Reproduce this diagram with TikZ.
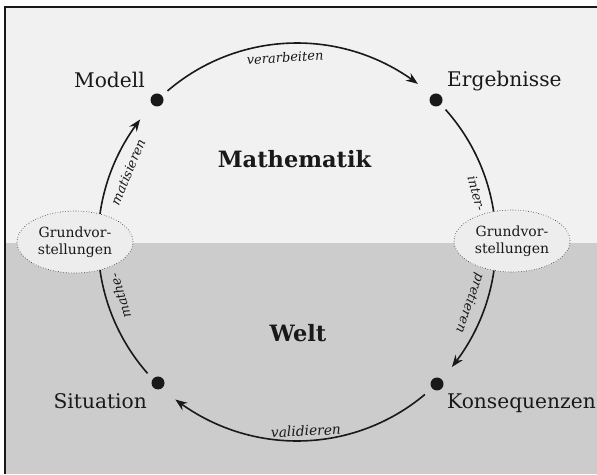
\documentclass[tikz,border=0pt]{standalone}
\usepackage{fontspec}
\setmainfont{DejaVu Serif}
\usetikzlibrary{arrows.meta,bending,shapes.geometric}
\definecolor{topbg}{gray}{0.945}
\definecolor{botbg}{gray}{0.80}
\definecolor{gvfill}{gray}{0.93}
\definecolor{ink}{gray}{0.1}
\begin{document}
\begin{tikzpicture}[x=1pt,y=1pt,
  flow/.style={draw=ink,line width=1.6pt,-{Stealth[length=12pt,width=9pt,bend]}},
  dot/.style={circle,fill=ink,inner sep=0pt,minimum size=13pt},
  lab/.style={font=\fontsize{20.2}{24}\selectfont,text=ink,inner sep=0pt},
  big/.style={font=\fontsize{22.5}{27}\selectfont\bfseries,text=ink,inner sep=0pt},
  verb/.style={font=\fontsize{13}{15}\selectfont\itshape,text=ink,inner sep=0pt},
  gv/.style={ellipse,draw=ink,dotted,line width=0.6pt,fill=gvfill,inner sep=0pt,
    minimum width=116pt,minimum height=62pt,align=center,
    font=\fontsize{14}{16.5}\selectfont,text=ink}]
\useasboundingbox (0,0) rectangle (597,474);
\fill[white] (0,0) rectangle (597,474);
\fill[topbg] (5,231) rectangle (597,467);
\fill[botbg] (5,0) rectangle (597,231);
\draw[line width=2pt,ink] (5,0) -- (5,467) -- (597,467);

\coordinate (C) at (297,232);
\node[dot] (m) at (157,374) {};
\node[dot] (e) at (436,374) {};
\node[dot] (s) at (158,91) {};
\node[dot] (k) at (437,90) {};

\node[lab,anchor=base east] (lm) at (145,386) {Modell};
\node[lab,anchor=base west] (le) at (447,387) {Ergebnisse};
\node[lab,anchor=base east] (ls) at (147,66) {Situation};
\node[lab,anchor=base west] (lk) at (447,66) {Konsequenzen};

\node[big,anchor=base] (math) at (294.5,306) {Mathematik};
\node[big,anchor=base] (welt) at (298,132) {Welt};

\coordinate (a1) at ([shift={(130.6:199pt)}]C);
\coordinate (a2) at ([shift={(41.7:199pt)}]C);
\coordinate (a3) at ([shift={(-50:199pt)}]C);
\coordinate (a4) at ([shift={(221.3:199pt)}]C);
\draw[flow] (a1) arc[start angle=130.6,end angle=52.6,radius=199pt];
\draw[flow] (a2) arc[start angle=41.7,end angle=-38.9,radius=199pt];
\draw[flow] (a3) arc[start angle=-50,end angle=-127.7,radius=199pt];
\draw[flow] (a4) arc[start angle=221.3,end angle=142,radius=199pt];

\node[gv] (gl) at (75,232) {Grundvor-\\stellungen};
\node[gv] (gr) at (512,233) {Grundvor-\\stellungen};

\node[verb,rotate=3.7] (t1) at ([shift={(93.7:185pt)}]C) {verarbeiten};
\node[verb,rotate=-75] (t2) at ([shift={(15.1:186pt)}]C) {inter-};
\node[verb,rotate=-109.5] (t3) at ([shift={(-19.5:183pt)}]C) {pretieren};
\node[verb,rotate=2.7,font=\fontsize{13.8}{15}\selectfont\itshape] (t4) at ([shift={(272.7:189pt)}]C) {validieren};
\node[verb,rotate=107] (t5) at ([shift={(197:185pt)}]C) {mathe-};
\node[verb,rotate=67.5] (t6) at ([shift={(157.5:183pt)}]C) {matisieren};
\end{tikzpicture}
\end{document}
